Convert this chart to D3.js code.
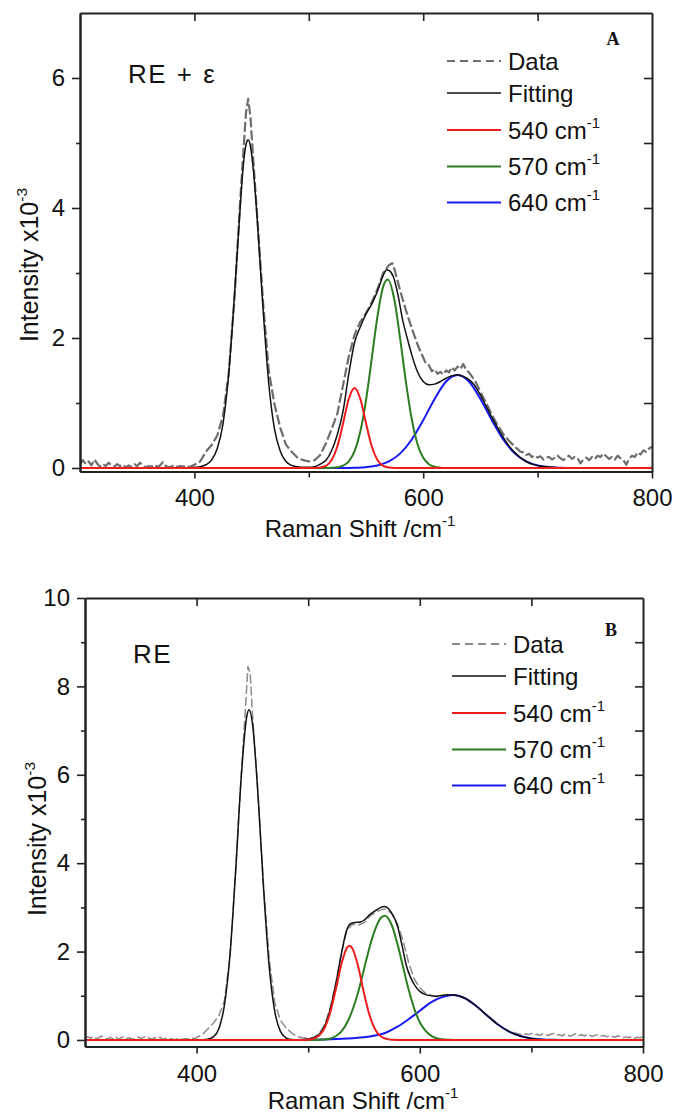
<!DOCTYPE html>
<html>
<head>
<meta charset="utf-8">
<script src="https://cdn.jsdelivr.net/npm/d3@7"></script>
<style>
body { margin: 0; background: #fff; }
text { font-family: Arial, "Liberation Sans", sans-serif; fill: #111; }
</style>
</head>
<body>
<svg id="chart" width="676" height="1114"></svg>
<script>
// ---- values: [Raman shift (cm-1), intensity x10^-3] ----

// panel A : RE + epsilon
const dataA = [[300,0.05],[302.5,0.12],[305,0.06],[307.5,0.10],[310,0.04],[312.5,0.13],[315,0.07],[317.5,0.02],[320,0.06],
  [322.5,0.03],[325,0.08],[327.5,0.04],[330,0.02],[332.5,0.06],[335,0.03],[337.5,0.05],[340,0.01],[342.5,0.04],[345,0.02],
  [347.5,0.06],[350,0.03],[352.5,0.08],[355,0.04],[357.5,0.01],[360,0.03],[362.5,0.02],[365,0.05],[367.5,0.02],[370,0.04],
  [372.5,0.09],[375,0.03],[377.5,0.01],[380,0.02],[382.5,0.05],[385,0.01],[387.5,0.03],[390,0.02],[392.5,0.04],[395,0.01],
  [397.5,0.03],[400,0.05],[405,0.10],[410,0.25],[415,0.35],[420,0.50],[425,0.80],[430,1.45],[435,2.60],[440,4.10],[445,5.45],
  [447,5.68],[449,5.40],[452,4.60],[455,3.85],[460,2.55],[465,1.50],[470,0.98],[475,0.62],[480,0.36],[485,0.25],
  [490,0.16],[495,0.12],[500,0.10],[505,0.12],[510,0.20],[515,0.38],[520,0.60],[525,0.84],[530,1.28],[535,1.72],
  [540,2.05],[545,2.25],[550,2.38],[555,2.55],[560,2.75],[565,3.00],[570,3.12],[573,3.15],[575,3.05],[580,2.72],
  [585,2.42],[590,2.15],[595,1.90],[600,1.70],[602.5,1.60],[605,1.58],[607.5,1.49],[610,1.52],[612.5,1.45],[615,1.48],
  [617.5,1.44],[620,1.50],[622.5,1.47],[625,1.55],[627.5,1.50],[630,1.56],[632.5,1.52],[635,1.60],[637.5,1.51],[640,1.47],
  [645,1.35],[650,1.17],[655,1.00],[660,0.82],[665,0.66],[670,0.52],[675,0.42],[680,0.33],[682.5,0.29],[685,0.25],
  [687.5,0.24],[690,0.20],[692.5,0.22],[695,0.17],[697.5,0.19],[700,0.16],[702.5,0.18],[705,0.13],[707.5,0.16],[710,0.17],
  [712.5,0.13],[715,0.16],[717.5,0.19],[720,0.15],[722.5,0.12],[725,0.16],[727.5,0.19],[730,0.14],[732.5,0.17],[735,0.15],
  [737.5,0.07],[740,0.13],[742.5,0.16],[745,0.12],[747.5,0.17],[750,0.14],[752.5,0.19],[755,0.17],[757.5,0.22],[760,0.18],
  [762.5,0.14],[765,0.17],[767.5,0.13],[770,0.19],[772.5,0.15],[775,0.12],[777.5,0.05],[780,0.14],[782.5,0.19],[785,0.17],
  [787.5,0.24],[790,0.21],[792.5,0.27],[795,0.25],[797.5,0.30],[800,0.33]];

const fitA = [[300,0],[395,0],[400,0.01],[405,0.02],[410,0.05],[415,0.12],[420,0.30],[425,0.68],[430,1.45],[435,2.65],
  [440,4.00],[443,4.70],[446,5.03],[447,5.05],[449,4.95],[452,4.50],[455,3.80],[460,2.45],[465,1.30],[470,0.60],
  [475,0.26],[480,0.10],[485,0.04],[490,0.02],[495,0.01],[500,0.01],[505,0.02],[510,0.06],[515,0.12],[520,0.27],
  [525,0.52],[530,0.88],[535,1.45],[540,1.93],[545,2.17],[550,2.37],[555,2.52],[560,2.72],[565,2.96],[568,3.05],
  [570,3.04],[574,2.94],[578,2.66],[582,2.28],[586,2.00],[590,1.74],[595,1.48],[600,1.33],[605,1.28],[610,1.29],
  [615,1.33],[620,1.38],[625,1.42],[630,1.43],[635,1.41],[640,1.36],[645,1.27],[650,1.12],[655,0.95],[660,0.78],
  [665,0.62],[670,0.47],[675,0.34],[680,0.24],[685,0.16],[690,0.10],[695,0.06],[700,0.04],[710,0.014],[720,0.004],
  [730,0],[800,0]];

const band540A = [[300,0],[505,0],[510,0.007],[515,0.033],[520,0.122],[525,0.335],[530,0.69],[535,1.065],[540,1.23],
  [545,1.065],[550,0.69],[555,0.335],[560,0.122],[565,0.033],[570,0.007],[575,0],[800,0]];

const band570A = [[300,0],[515,0],[520,0.003],[525,0.011],[530,0.035],[535,0.103],[540,0.258],[545,0.558],[550,1.04],
  [555,1.68],[560,2.33],[565,2.79],[569,2.90],[575,2.57],[580,1.97],[585,1.31],[590,0.75],[595,0.37],[600,0.156],
  [605,0.058],[610,0.018],[615,0.005],[620,0.001],[625,0],[800,0]];

const band640A = [[300,0],[530,0],[540,0.004],[550,0.013],[560,0.038],[570,0.10],[580,0.225],[590,0.438],[600,0.735],
  [610,1.063],[620,1.33],[630,1.43],[640,1.33],[650,1.063],[660,0.735],[670,0.438],[680,0.225],[690,0.10],[700,0.038],
  [710,0.013],[720,0.004],[730,0],[800,0]];

// panel B : RE
const dataB = [[300,0.03],[302.5,0.07],[305,0.04],[307.5,0.08],[310,0.03],[312.5,0.05],[315,0.09],[317.5,0.04],[320,0.02],
  [322.5,0.06],[325,0.03],[327.5,0.07],[330,0.02],[332.5,0.05],[335,0.08],[337.5,0.03],[340,0.05],[342.5,0.02],[345,0.04],
  [347.5,0.07],[350,0.03],[352.5,0.06],[355,0.08],[357.5,0.04],[360,0.02],[362.5,0.05],[365,0.03],[367.5,0.06],[370,0.01],
  [372.5,0.04],[375,0.02],[377.5,0.03],[380,0.00],[382.5,0.02],[385,0.04],[387.5,0.01],[390,0.03],[392.5,0.02],[395,0.05],
  [397.5,0.03],[400,0.05],[405,0.12],[410,0.25],[415,0.38],[420,0.55],[425,0.90],[430,1.90],[435,3.80],[440,6.00],[444,7.60],
  [446,8.45],[448,8.30],[450,7.40],[455,5.60],[460,3.50],[465,1.85],[470,0.85],[475,0.45],[480,0.28],[485,0.16],
  [490,0.08],[495,0.05],[500,0.04],[505,0.06],[510,0.15],[515,0.36],[520,0.75],[525,1.32],[530,2.00],[535,2.50],
  [540,2.62],[545,2.60],[550,2.65],[555,2.80],[560,2.88],[565,2.95],[570,2.96],[575,2.85],[580,2.62],[585,2.25],
  [590,1.75],[595,1.38],[600,1.18],[605,1.06],[610,1.01],[615,0.98],[620,1.00],[625,1.03],[630,1.01],[635,1.00],
  [640,0.95],[645,0.87],[650,0.78],[655,0.67],[660,0.56],[665,0.45],[670,0.35],[675,0.27],[680,0.20],[685,0.16],
  [690,0.13],[692.5,0.11],[695,0.14],[697.5,0.12],[700,0.15],[702.5,0.11],[705,0.13],[707.5,0.10],[710,0.14],[712.5,0.12],
  [715,0.10],[717.5,0.13],[720,0.15],[722.5,0.11],[725,0.12],[727.5,0.09],[730,0.13],[732.5,0.11],[735,0.08],[737.5,0.12],
  [740,0.14],[742.5,0.10],[745,0.12],[747.5,0.09],[750,0.13],[752.5,0.10],[755,0.08],[757.5,0.11],[760,0.12],[762.5,0.09],
  [765,0.10],[767.5,0.07],[770,0.10],[772.5,0.08],[775,0.06],[777.5,0.09],[780,0.08],[782.5,0.05],[785,0.07],[787.5,0.05],
  [790,0.08],[792.5,0.04],[795,0.06],[797.5,0.05],[800,0.07]];

const fitB = [[300,0],[400,0],[405,0.002],[410,0.015],[415,0.07],[420,0.26],[425,0.80],[430,1.95],[435,3.84],[440,5.95],
  [445,7.33],[447,7.47],[450,7.17],[455,5.55],[460,3.42],[465,1.67],[470,0.65],[475,0.20],[480,0.05],[485,0.01],
  [490,0],[500,0.02],[505,0.05],[510,0.13],[515,0.33],[520,0.72],[525,1.30],[530,1.98],[534,2.45],[538,2.63],
  [542,2.66],[547,2.67],[551,2.73],[555,2.83],[560,2.92],[565,3.00],[568,3.02],[572,2.97],[576,2.82],[580,2.58],
  [584,2.15],[588,1.68],[592,1.40],[596,1.22],[600,1.10],[606,1.02],[615,0.99],[624,1.02],[630,1.02],[640,0.95],
  [650,0.78],[660,0.56],[670,0.35],[680,0.19],[690,0.09],[700,0.035],[710,0.012],[720,0.004],[730,0],[800,0]];

const band540B = [[300,0],[490,0],[495,0.0015],[500,0.007],[505,0.031],[510,0.105],[515,0.288],[520,0.645],[525,1.175],
  [530,1.74],[535,2.095],[537,2.13],[540,2.05],[545,1.64],[550,1.06],[555,0.558],[560,0.239],[565,0.083],[570,0.024],
  [575,0.005],[580,0.001],[585,0],[800,0]];

const band570B = [[300,0],[505,0],[510,0.004],[515,0.012],[520,0.035],[525,0.09],[530,0.20],[535,0.40],[540,0.70],
  [545,1.10],[550,1.60],[555,2.10],[560,2.50],[565,2.76],[568.5,2.81],[575,2.59],[580,2.17],[585,1.65],[590,1.14],
  [595,0.71],[600,0.40],[605,0.21],[610,0.10],[615,0.04],[620,0.016],[625,0.006],[630,0.002],[635,0],[800,0]];

const band640B = [[300,0],[480,0],[500,0.005],[520,0.015],[540,0.04],[550,0.06],[560,0.10],[570,0.17],[580,0.30],
  [590,0.47],[600,0.66],[610,0.85],[620,0.97],[630,1.02],[640,0.95],[650,0.78],[660,0.56],[670,0.35],[680,0.19],
  [690,0.09],[700,0.035],[710,0.012],[720,0.004],[730,0],[800,0]];

// ticks
const xMajor = [400, 600, 800];
const xMinor = [500, 700];
const xTop = [400, 500, 600, 700];
const yMajorA = [0, 2, 4, 6];
const yMinorA = [1, 3, 5];
const yRightA = [1, 2, 3, 4, 5, 6];
const yMajorB = [0, 2, 4, 6, 8, 10];
const yMinorB = [1, 3, 5, 7, 9];
const yRightB = [1, 2, 3, 4, 5, 6, 7, 8, 9];

// legend
const legendNames = ["Data", "Fitting", "540 cm", "570 cm", "640 cm"];
const bandColors = ["#ee1c1c", "#2c7d22", "#1818f5"];

const svg = d3.select("#chart");

const panels = [
    { tag: "A", name: "RE + \u03b5", left: 80, right: 652, top: 13, bottom: 471.5, yLow: -0.054, yHigh: 7,
      yMajor: yMajorA, yMinor: yMinorA, yRight: yRightA,
      data: dataA, fit: fitA, bands: [band540A, band570A, band640A],
      dataColor: "#6d6d6d", dataWidth: 2.2, dash: "10,3",
      yTitle: [38, 265], xTitle: [360, 537], pad: 10.5, tagPos: [613, 45], namePos: [128, 83], legendTop: 61 },
    { tag: "B", name: "RE", left: 85, right: 643, top: 598, bottom: 1046.6, yLow: -0.15, yHigh: 10,
      yMajor: yMajorB, yMinor: yMinorB, yRight: yRightB,
      data: dataB, fit: fitB, bands: [band540B, band570B, band640B],
      dataColor: "#8c8c8c", dataWidth: 1.5, dash: "9,3",
      yTitle: [46, 839], xTitle: [363, 1109], pad: 11.5, tagPos: [611, 636], namePos: [133, 663], legendTop: 644 }
];

const legendGaps = [0, 32, 69, 105.5, 141.5];

function sup(sel, base, exp, size) {
    sel.text(base);
    sel.append("tspan")
        .attr("dy", -size * 0.45)
        .style("font-size", (size * 0.62) + "px")
        .text(exp);
}

function styleAxis(g) {
    g.select(".domain").attr("stroke", "#222").attr("stroke-width", 2);
    g.selectAll(".tick line").attr("stroke", "#222").attr("stroke-width", 1.6);
    g.selectAll(".tick text").style("font-size", "24px").style("font-family", "Arial, 'Liberation Sans', sans-serif").attr("fill", "#111");
}

panels.forEach(function(p) {
    let x = d3.scaleLinear().domain([300, 800]).range([p.left, p.right]);
    let y = d3.scaleLinear().domain([p.yLow, p.yHigh]).range([p.bottom, p.top]);

    let g = svg.append("g");

    // curves
    let smooth = d3.line().x(d => x(d[0])).y(d => y(d[1])).curve(d3.curveMonotoneX);
    let raw = d3.line().x(d => x(d[0])).y(d => y(d[1]));

    g.append("path").attr("d", raw(p.data))
        .attr("fill", "none").attr("stroke", p.dataColor)
        .attr("stroke-width", p.dataWidth).attr("stroke-dasharray", p.dash)
        .attr("stroke-linejoin", "round");

    // blue, green, then fitting, red on top
    [2, 1].forEach(function(i) {
        g.append("path").attr("d", smooth(p.bands[i]))
            .attr("fill", "none").attr("stroke", bandColors[i]).attr("stroke-width", 2);
    });
    g.append("path").attr("d", smooth(p.fit))
        .attr("fill", "none").attr("stroke", "#111").attr("stroke-width", 1.5);
    g.append("path").attr("d", smooth(p.bands[0]))
        .attr("fill", "none").attr("stroke", bandColors[0]).attr("stroke-width", 2);

    // axes: left/bottom outward, top/right inward
    let left = g.append("g").attr("transform", "translate(" + p.left + ",0)")
        .call(d3.axisLeft(y).tickValues(p.yMajor).tickSize(8).tickSizeOuter(0).tickPadding(7).tickFormat(d3.format("d")));
    styleAxis(left);
    let leftMinor = g.append("g").attr("transform", "translate(" + p.left + ",0)")
        .call(d3.axisLeft(y).tickValues(p.yMinor).tickSize(4).tickSizeOuter(0).tickFormat(""));
    styleAxis(leftMinor);

    let bottom = g.append("g").attr("transform", "translate(0," + p.bottom + ")")
        .call(d3.axisBottom(x).tickValues(xMajor).tickSize(7).tickSizeOuter(0).tickPadding(p.pad));
    styleAxis(bottom);
    let bottomMinor = g.append("g").attr("transform", "translate(0," + p.bottom + ")")
        .call(d3.axisBottom(x).tickValues(xMinor).tickSize(6).tickSizeOuter(0).tickFormat(""));
    styleAxis(bottomMinor);

    let top = g.append("g").attr("transform", "translate(0," + p.top + ")")
        .call(d3.axisTop(x).tickValues(xTop).tickSize(-8).tickSizeOuter(0).tickFormat(""));
    styleAxis(top);
    let right = g.append("g").attr("transform", "translate(" + p.right + ",0)")
        .call(d3.axisRight(y).tickValues(p.yRight).tickSize(-8).tickSizeOuter(0).tickFormat(""));
    styleAxis(right);

    // axis titles
    g.append("text")
        .attr("transform", "translate(" + p.yTitle[0] + "," + p.yTitle[1] + ")rotate(-90)")
        .attr("text-anchor", "middle")
        .style("font-size", "25px")
        .call(sup, "Intensity x10", "-3", 25);

    g.append("text")
        .attr("x", p.xTitle[0]).attr("y", p.xTitle[1])
        .attr("text-anchor", "middle")
        .style("font-size", "24px")
        .call(sup, "Raman Shift /cm", "-1", 24);

    // panel labels
    g.append("text")
        .attr("x", p.tagPos[0]).attr("y", p.tagPos[1])
        .attr("text-anchor", "middle")
        .style("font-family", "'Liberation Serif', 'Times New Roman', serif")
        .style("font-weight", "bold").style("font-size", "18px")
        .text(p.tag);

    g.append("text")
        .attr("x", p.namePos[0]).attr("y", p.namePos[1])
        .style("font-size", "26px")
        .style("letter-spacing", "1.5px")
        .style("word-spacing", "1px")
        .text(p.name);

    // legend
    let lx0 = p.left + 367, lx1 = p.left + 421, tx = p.left + 428;
    legendNames.forEach(function(name, i) {
        let ly = p.legendTop + legendGaps[i];
        let line = g.append("line").attr("x1", lx0).attr("x2", lx1).attr("y1", ly).attr("y2", ly);
        if (i === 0) {
            line.attr("stroke", p.dataColor).attr("stroke-width", 1.8).attr("stroke-dasharray", "8,5");
        } else if (i === 1) {
            line.attr("stroke", "#111").attr("stroke-width", 1.5);
        } else {
            line.attr("stroke", bandColors[i - 2]).attr("stroke-width", 2);
        }
        let t = g.append("text").attr("x", tx).attr("y", ly + 8.5).style("font-size", "24px");
        if (i < 2) t.text(name);
        else t.call(sup, name, "-1", 24);
    });
});
</script>
</body>
</html>
